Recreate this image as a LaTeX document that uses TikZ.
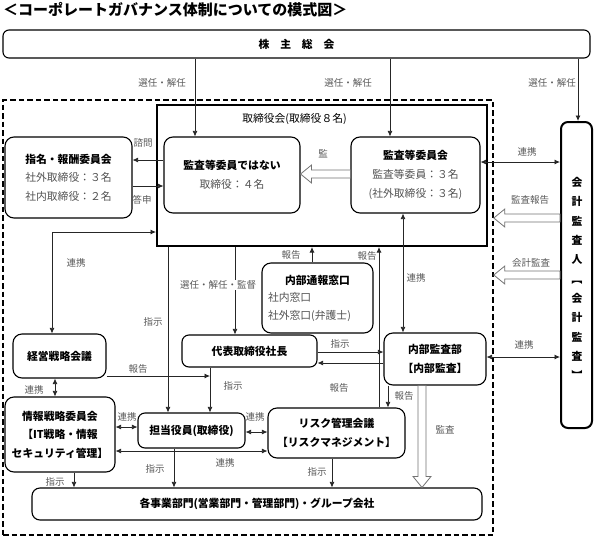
\documentclass[tikz,border=0pt]{standalone}
\usepackage{fontspec}
\setmainfont{Noto Sans CJK JP}
\usetikzlibrary{arrows.meta,calc}
\newcommand\subtxt[1]{{\mdseries\color{black!68}#1}}
\newcommand\hollowarrow[2]{%
  \coordinate (hA) at (#1);
  \coordinate (hB) at (#2);
  \coordinate (hH) at ($(hB)!11pt!(hA)$);
  \draw[hollow] ($(hA)!4pt!90:(hB)$) -- ($(hH)!4pt!90:(hB)$) -- ($(hH)!9pt!90:(hB)$) -- (hB)
     -- ($(hH)!9pt!-90:(hB)$) -- ($(hH)!4pt!-90:(hB)$) -- ($(hA)!4pt!-90:(hB)$) -- cycle;
}
\begin{document}
\begin{tikzpicture}[x=1pt,y=-1pt,
  >={Latex[length=5.5pt,width=5pt]},
  box/.style={draw=black, line width=1.1pt, rounded corners=9pt, inner sep=0pt, align=center,
              font=\fontsize{10.8}{18.5}\selectfont\bfseries},
  conn/.style={draw=black!85, line width=0.75pt},
  lbl/.style={font=\fontsize{9.5}{11}\selectfont, text=black!65, inner sep=0.5pt},
  hollow/.style={draw=black!55, fill=white, line width=0.8pt, line join=miter},
]
\useasboundingbox (0,0) rectangle (595,539);
% guides
\foreach \x in {52,55,74,168,174,195,210,235,312,332,379,388,390,403,422,578}
  \coordinate (vx\x) at (\x,0);
\foreach \y in {160,162,174,186,218,232,275,352,357,363,376,427,432,451}
  \coordinate (hy\y) at (0,\y);

% title
\node[anchor=west, inner sep=0pt, font=\fontsize{15}{17}\selectfont\bfseries] (title) at (3,10)
  {＜コーポレートガバナンス体制についての模式図＞};

% frames
\node[draw=black, line width=1.6pt, dash pattern=on 5.5pt off 3pt, minimum width=490pt, minimum height=435pt, inner sep=0pt]
  (group) at (248,317.5) {};
\node[draw=black, line width=2pt, minimum width=330pt, minimum height=141pt, inner sep=0pt]
  (torishimari) at (322,175.5) {};
\node[inner sep=0pt, font=\fontsize{10.8}{13}\selectfont] (torititle) at (294.5,119) {取締役会(取締役８名)};

% boxes
\node[box, rounded corners=6pt, minimum width=587pt, minimum height=28pt] (kabu) at (296.5,44) {株　主　総　会};
\node[box, minimum width=136pt, minimum height=76pt] (nonaudit) at (232,175)
  {監査等委員ではない\\\subtxt{取締役：４名}};
\node[box, minimum width=129pt, minimum height=76pt, font=\fontsize{10.8}{19}\selectfont\bfseries] (auditcom) at (415.5,175)
  {監査等委員会\\\subtxt{監査等委員：３名}\\\subtxt{(社外取締役：３名)}};
\node[box, minimum width=127pt, minimum height=81pt] (shimei) at (68.5,177.5)
  {指名・報酬委員会\\\subtxt{社外取締役：３名}\\\subtxt{社内取締役：２名}};
\node[box, minimum width=93pt, minimum height=44pt] (keiei) at (59.5,356) {経営戦略会議};
\node[box, minimum width=110pt, minimum height=75pt] (joho) at (60,434.5)
  {情報戦略委員会\\【IT戦略・情報\\セキュリティ管理】};
\node[box, rounded corners=7pt, minimum width=107pt, minimum height=35pt] (tanto) at (191.5,430.5) {担当役員(取締役)};
\node[box, minimum width=137pt, minimum height=50pt, font=\fontsize{10.8}{19}\selectfont\bfseries] (risk) at (336.5,433)
  {リスク管理会議\\【リスクマネジメント】};
\node[box, rounded corners=7pt, minimum width=135pt, minimum height=32pt] (daihyo) at (249.5,351) {代表取締役社長};
\node[box, minimum width=111pt, minimum height=70pt, text width=99pt, align=left, font=\fontsize{10.8}{17.5}\selectfont\bfseries]
  (tsuho) at (317.5,298)
  {\makebox[99pt]{内部通報窓口}\\\subtxt{社内窓口}\\\subtxt{社外窓口(弁護士)}};
\node[box, minimum width=102pt, minimum height=52pt] (naibu) at (435,359) {内部監査部\\【内部監査】};
\node[box, rounded corners=8pt, minimum width=450pt, minimum height=32pt] (kakujigyo) at (257,504)
  {各事業部門(営業部門・管理部門)・グループ会社};
\node[box, line width=2pt, rounded corners=7pt, minimum width=31pt, minimum height=306pt] (kaikei) at (576.5,275) {};
\node[inner sep=0pt, align=center, font=\fontsize{10.8}{19.3}\selectfont\bfseries] (kaikeitxt) at (577,278.5)
  {会\\計\\監\\査\\人\\︻\\会\\計\\監\\査\\︼};

% connectors from shareholders
\draw[conn,->] (kabu.south -| vx195) -- (nonaudit.north -| vx195);
\draw[conn,->] (kabu.south -| vx390) -- (auditcom.north -| vx390);
\draw[conn,->] (kabu.south -| vx578) -- (kaikei.north -| vx578);
\node[lbl] (l1) at (162,83) {選任・解任};
\node[lbl] (l2) at (348,83) {選任・解任};
\node[lbl] (l3) at (552,83) {選任・解任};

% nomination committee
\draw[conn,->] (nonaudit.west |- hy160) -- (shimei.east |- hy160);
\draw[conn,->] (shimei.east |- hy186) -- (nonaudit.west |- hy186);
\node[lbl] (l4) at (143,143) {諮問};
\node[lbl] (l5) at (142,200) {答申};

% audit committee -> non-audit directors
\hollowarrow{auditcom.west |- hy174}{nonaudit.east |- hy174}
\node[lbl] (l6) at (323,154) {監};

% board <-> management strategy
\draw[conn,<->] (torishimari.west |- hy232) -| (keiei.north -| vx52);
\node[lbl] (l7) at (76,263) {連携};
\draw[conn,<->] (keiei.south -| vx55) -- (joho.north -| vx55);
\node[lbl] (l8) at (34,390) {連携};

% board down
\draw[conn,->] (torishimari.south -| vx168) -- (tanto.north -| vx168);
\node[lbl] (l9) at (153,322) {指示};
\draw[conn,->] (torishimari.south -| vx235) -- (daihyo.north -| vx235);
\node[lbl, fill=white] (l10) at (218,285) {選任・解任・監督};

% reports up
\draw[conn,->] (tsuho.north -| vx312) -- (torishimari.south -| vx312);
\node[lbl] (l11) at (291,255) {報告};
\draw[conn,->] (risk.north -| vx379) -- (torishimari.south -| vx379);
\node[lbl] (l12) at (367,256) {報告};
\node[lbl] (l13) at (339,388) {報告};

% audit committee <-> internal audit
\draw[conn,<->] (auditcom.south -| vx403) -- (naibu.north -| vx403);
\node[lbl] (l14) at (416,278) {連携};

% president <-> internal audit
\draw[conn,->] (daihyo.east |- hy352) -- (naibu.west |- hy352);
\draw[conn,->] (naibu.west |- hy363) -- (daihyo.east |- hy363);
\node[lbl] (l15) at (340,344) {指示};

% president -> officer
\draw[conn,->] (daihyo.south -| vx210) -- (tanto.north -| vx210);
\node[lbl] (l16) at (233,386) {指示};
\draw[conn,->] (keiei.east |- hy376) -- (vx210 |- hy376);
\node[lbl] (l17) at (138,369) {報告};

% internal audit -> risk
\draw[conn,->] (naibu.south -| vx388) -- (risk.north -| vx388);
\node[lbl] (l18) at (404,396) {報告};

% cooperation lines lower
\draw[conn,<->] (joho.east |- hy427) -- (tanto.west |- hy427);
\node[lbl] (l19) at (127,417) {連携};
\draw[conn,<->] (tanto.east |- hy432) -- (risk.west |- hy432);
\node[lbl] (l20) at (255,417) {連携};
\draw[conn,<->] (joho.east |- hy451) -- (risk.west |- hy451);
\node[lbl] (l21) at (225,463) {連携};

% instructions to business units
\draw[conn,->] (joho.south -| vx74) -- (kakujigyo.north -| vx74);
\node[lbl] (l22) at (55,482) {指示};
\draw[conn,->] (tanto.south -| vx174) -- (kakujigyo.north -| vx174);
\node[lbl] (l23) at (155,469) {指示};
\draw[conn,->] (risk.south -| vx332) -- (kakujigyo.north -| vx332);
\node[lbl] (l24) at (317,472) {指示};

% audit of business units
\hollowarrow{naibu.south -| vx422}{kakujigyo.north -| vx422}
\node[lbl] (l25) at (445,430) {監査};

% accounting auditor
\draw[conn,<->] (auditcom.east |- hy162) -- (kaikei.west |- hy162);
\node[lbl] (l26) at (527,152) {連携};
\hollowarrow{kaikei.west |- hy218}{group.east |- hy218}
\node[lbl] (l27) at (530,200) {監査報告};
\hollowarrow{kaikei.west |- hy275}{group.east |- hy275}
\node[lbl] (l28) at (531,263) {会計監査};
\draw[conn,<->] (naibu.east |- hy357) -- (kaikei.west |- hy357);
\node[lbl] (l29) at (524,345) {連携};
\end{tikzpicture}
\end{document}
